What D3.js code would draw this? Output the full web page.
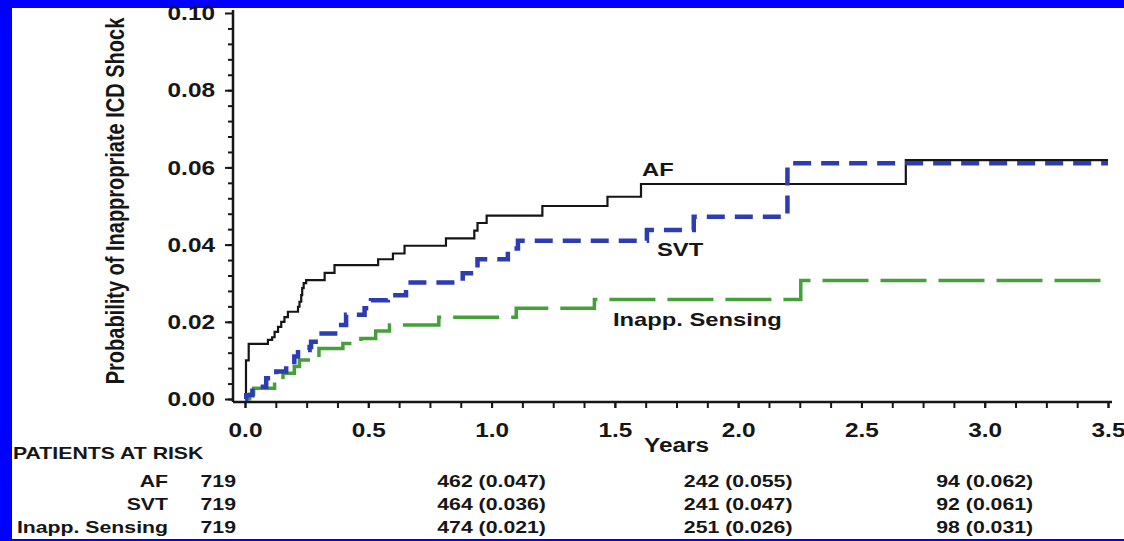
<!DOCTYPE html>
<html>
<head>
<meta charset="utf-8">
<script src="https://cdn.jsdelivr.net/npm/d3@7"></script>
<style>
body { margin: 0; background: #fff; }
svg { display: block; }
text { font-family: "Liberation Sans", Arial, sans-serif; font-weight: bold; fill: #161616; }
</style>
</head>
<body>
<svg></svg>
<script>
// Kaplan-Meier steps (years, probability)
const afTime = [0, 0.004, 0.015, 0.093, 0.11, 0.12, 0.134, 0.147, 0.16, 0.174, 0.215, 0.221, 0.228, 0.232, 0.238, 0.248, 0.323, 0.363, 0.54, 0.60, 0.647, 0.815, 0.93, 0.943, 0.98, 1.206, 1.47, 1.606, 2.68, 3.5];
const afProb = [0, 0.010, 0.0143, 0.0153, 0.016, 0.0174, 0.0187, 0.020, 0.0212, 0.0226, 0.0239, 0.0252, 0.0269, 0.0287, 0.030, 0.0308, 0.0327, 0.0347, 0.0362, 0.0377, 0.0397, 0.0416, 0.0436, 0.0456, 0.0475, 0.050, 0.0524, 0.0557, 0.0619, 0.0619];

const svtTime = [0, 0.005, 0.03, 0.086, 0.127, 0.167, 0.2, 0.215, 0.262, 0.268, 0.296, 0.383, 0.39, 0.41, 0.485, 0.511, 0.579, 0.653, 0.883, 0.943, 1.066, 1.107, 1.63, 1.82, 2.2, 3.5];
const svtProb = [0, 0.001, 0.0032, 0.0054, 0.0071, 0.0088, 0.011, 0.0127, 0.0135, 0.0148, 0.017, 0.0183, 0.0192, 0.0218, 0.0235, 0.0256, 0.0269, 0.0302, 0.0326, 0.0362, 0.039, 0.041, 0.0438, 0.0472, 0.0611, 0.0611];

const sensTime = [0, 0.019, 0.035, 0.12, 0.154, 0.2, 0.221, 0.3, 0.397, 0.47, 0.53, 0.586, 0.786, 1.1, 1.417, 2.254, 3.5];
const sensProb = [0, 0.0012, 0.0028, 0.0049, 0.0067, 0.0084, 0.0101, 0.0131, 0.0144, 0.0157, 0.0176, 0.0192, 0.0212, 0.0235, 0.0258, 0.0307, 0.0307];

const xTicks = [0, 0.5, 1.0, 1.5, 2.0, 2.5, 3.0, 3.5];
const yTicks = [0, 0.02, 0.04, 0.06, 0.08, 0.10];

const riskYears = [0, 1, 2, 3];
const riskGroups = ["AF", "SVT", "Inapp. Sensing"];
const riskAF = ["719", "462 (0.047)", "242 (0.055)", "94 (0.062)"];
const riskSVT = ["719", "464 (0.036)", "241 (0.047)", "92 (0.061)"];
const riskSens = ["719", "474 (0.021)", "251 (0.026)", "98 (0.031)"];

const width = 1124, height = 541;
const SX = 1.25; // the picture is stretched sideways, so text is too

const svg = d3.select("svg")
    .attr("width", width)
    .attr("height", height);

// blue frame
svg.append("rect").attr("x", 0).attr("y", 0).attr("width", width).attr("height", 8).attr("fill", "#0000fe");
svg.append("rect").attr("x", 0).attr("y", 0).attr("width", 12).attr("height", height).attr("fill", "#0000fe");
svg.append("rect").attr("x", 0).attr("y", 539).attr("width", width).attr("height", 2).attr("fill", "#0000fe");

const axisX = 233, axisY = 402;

const xScale = d3.scaleLinear().domain([0, 3.5]).range([245, 1108]);
const yScale = d3.scaleLinear().domain([0, 0.10]).range([399, 13]);

function wide(sel, x, y) {
    sel.attr("transform", `translate(${x},${y}) scale(${SX},1)`);
}

// y axis
const yMinor = svg.append("g").attr("transform", `translate(${axisX},0)`)
    .call(d3.axisLeft(yScale).tickValues(d3.range(0, 25).map(i => i * 0.004)).tickSize(5).tickFormat(""));
const yMajor = svg.append("g").attr("transform", `translate(${axisX},0)`)
    .call(d3.axisLeft(yScale).tickValues(yTicks).tickSize(8).tickFormat(d3.format(".2f")));

// x axis
const xMinor = svg.append("g").attr("transform", `translate(0,${axisY})`)
    .call(d3.axisBottom(xScale).tickValues(d3.range(0, 29).map(i => i * 0.125)).tickSize(6).tickFormat(""));
const xMajor = svg.append("g").attr("transform", `translate(0,${axisY})`)
    .call(d3.axisBottom(xScale).tickValues(xTicks).tickSize(6).tickFormat(d3.format(".1f")));

[yMinor, yMajor, xMinor, xMajor].forEach(g => {
    g.select(".domain").remove();
    g.selectAll("line").attr("stroke", "#161616").attr("stroke-width", 2);
});

yMajor.selectAll("text")
    .attr("x", 0).attr("dy", "0.34em")
    .attr("font-size", 19.5).attr("text-anchor", "end")
    .attr("transform", `translate(-18,0) scale(${SX},1)`);

xMajor.selectAll("text")
    .attr("y", 0).attr("dy", 0)
    .attr("font-size", 19.5).attr("text-anchor", "middle")
    .attr("transform", `translate(0,35) scale(${SX},1)`);

svg.append("line")
    .attr("x1", axisX).attr("x2", axisX).attr("y1", 10).attr("y2", axisY)
    .attr("stroke", "#161616").attr("stroke-width", 2.5);
svg.append("line")
    .attr("x1", axisX).attr("x2", 1112).attr("y1", axisY).attr("y2", axisY)
    .attr("stroke", "#161616").attr("stroke-width", 2.5);

// titles
svg.append("text")
    .attr("font-size", 20)
    .attr("text-anchor", "middle")
    .attr("transform", `translate(124,201) scale(${SX},1) rotate(-90)`)
    .text("Probability of Inappropriate ICD Shock");

wide(svg.append("text")
    .attr("font-size", 19.5)
    .attr("text-anchor", "middle")
    .text("Years"), (xScale(0) + xScale(3.5)) / 2, 452);

// curves
const stepLine = d3.line()
    .x(d => xScale(d[0]))
    .y(d => yScale(d[1]))
    .curve(d3.curveStepAfter);

svg.append("path")
    .attr("d", stepLine(d3.zip(afTime, afProb)))
    .attr("fill", "none")
    .attr("stroke", "#151515")
    .attr("stroke-width", 2.2);

svg.append("path")
    .attr("d", stepLine(d3.zip(sensTime, sensProb)))
    .attr("fill", "none")
    .attr("stroke", "#45a03a")
    .attr("stroke-width", 3.5)
    .attr("stroke-dasharray", "46,12");

svg.append("path")
    .attr("d", stepLine(d3.zip(svtTime, svtProb)))
    .attr("fill", "none")
    .attr("stroke", "#2e3cb4")
    .attr("stroke-width", 4.5)
    .attr("stroke-dasharray", "18,10");

// curve labels
wide(svg.append("text").attr("font-size", 19).text("AF"), 642, 176);
wide(svg.append("text").attr("font-size", 19).text("SVT"), 657, 256);
wide(svg.append("text").attr("font-size", 19).text("Inapp. Sensing"), 613, 326);

// patients at risk table
wide(svg.append("text").attr("font-size", 17).text("PATIENTS AT RISK"), 13, 459);

const rowBase = [486.5, 509.5, 533];
const riskRows = [riskAF, riskSVT, riskSens];

riskGroups.forEach((name, i) => {
    wide(svg.append("text")
        .attr("font-size", 17)
        .attr("text-anchor", "end")
        .text(name), 168, rowBase[i]);

    riskRows[i].forEach((val, j) => {
        const t = svg.append("text")
            .attr("font-size", 17)
            .attr("text-anchor", j === 0 ? "end" : "middle")
            .text(val);
        wide(t, j === 0 ? xScale(riskYears[j]) - 9 : xScale(riskYears[j]), rowBase[i]);
    });
});
</script>
</body>
</html>
